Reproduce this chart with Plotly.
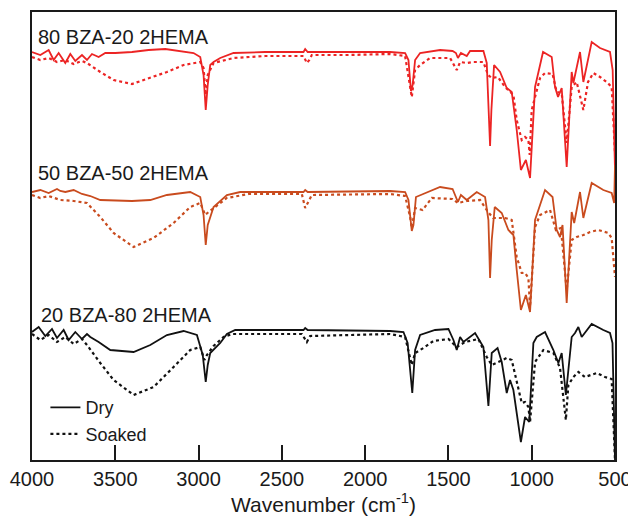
import plotly.graph_objects as go

# FTIR spectra, transmittance in arbitrary units (stacked, offset per sample)
wn_red_dry = [4000, 3950, 3900, 3870, 3840, 3800, 3770, 3740, 3700, 3670, 3640, 3600, 3560, 3500,
              3400, 3300, 3200, 3100, 3030, 2990, 2970, 2957, 2945, 2930, 2910, 2870, 2790, 2600,
              2370, 2360, 2345, 2100, 1850, 1760, 1740, 1725, 1715, 1700, 1670, 1550, 1475, 1455,
              1443, 1425, 1390, 1370, 1290, 1270, 1255, 1250, 1242, 1226, 1190, 1150, 1120, 1090,
              1065, 1035, 1010, 980, 932, 880, 860, 842, 820, 790, 760, 750, 710, 690, 640, 590,
              530, 514, 500]
t_red_dry = [408, 405, 410, 400, 407, 397, 406, 399, 405, 400, 406, 403, 407, 407,
             408, 410, 411, 409, 407, 403, 385, 350, 375, 395, 398, 402, 407, 408,
             408, 411, 408, 408, 408, 407, 400, 369, 375, 400, 407, 410, 409, 407,
             402, 407, 404, 409, 409, 397, 340, 314, 350, 395, 388, 372, 368, 330,
             290, 300, 282, 373, 408, 403, 373, 363, 372, 293, 388, 377, 408, 378, 418, 412,
             408, 390, 290]

wn_red_soaked = [4000, 3950, 3900, 3850, 3800, 3750, 3700, 3670, 3590, 3510, 3400, 3290, 3190,
                 3090, 2990, 2970, 2957, 2945, 2910, 2790, 2600, 2370, 2350, 2335, 2320, 2100,
                 1850, 1760, 1730, 1720, 1700, 1670, 1610, 1490, 1450, 1430, 1390, 1350, 1290,
                 1262, 1240, 1203, 1160, 1110, 1090, 1060, 1040, 1020, 1012, 1000, 980, 950, 920,
                 875, 850, 820, 790, 760, 730, 690, 662, 630, 590, 550, 520, 500]
t_red_soaked = [403, 400, 402, 398, 400, 396, 399, 397, 388, 380, 376, 382, 388,
                395, 398, 392, 365, 385, 397, 402, 404, 404, 397, 400, 405, 405,
                406, 404, 373, 363, 390, 395, 402, 402, 390, 398, 397, 398, 398,
                385, 382, 383, 373, 365, 340, 320, 323, 320, 305, 350, 363, 382, 387,
                386, 368, 367, 317, 373, 378, 350, 378, 387, 383, 378, 373, 307]

wn_or_dry = [4000, 3950, 3900, 3850, 3830, 3800, 3750, 3700, 3650, 3590, 3400, 3290, 3190, 3050,
             2990, 2970, 2957, 2945, 2910, 2830, 2750, 2370, 2360, 2345, 1850, 1760, 1740, 1720,
             1710, 1695, 1550, 1475, 1443, 1425, 1390, 1330, 1280, 1260, 1250, 1240, 1222, 1180,
             1140, 1110, 1090, 1065, 1035, 1010, 980, 920, 875, 850, 830, 815, 790, 760, 745,
             710, 690, 640, 570, 520, 505, 500]
t_or_dry = [268, 270, 267, 271, 269, 268, 270, 266, 264, 260, 259, 260, 265, 268,
            263, 245, 215, 235, 253, 265, 268, 268, 270, 268, 269, 268, 260, 229,
            235, 263, 273, 271, 258, 265, 260, 268, 263, 240, 182, 220, 253, 247,
            230, 225, 190, 150, 165, 148, 240, 270, 263, 230, 223, 235, 157, 248, 237,
            268, 242, 277, 270, 267, 257, 295]

wn_or_soaked = [4000, 3950, 3900, 3830, 3750, 3670, 3590, 3510, 3390, 3270, 3150, 3050, 2990,
                2960, 2940, 2830, 2700, 2380, 2360, 2340, 2320, 1850, 1760, 1730, 1720, 1700,
                1655, 1600, 1475, 1443, 1390, 1310, 1262, 1232, 1160, 1120, 1090, 1060, 1040,
                1020, 1010, 980, 950, 890, 855, 825, 790, 760, 730, 690, 650, 600, 540, 520, 500]
t_or_soaked = [265, 262, 264, 260, 259, 257, 243, 227, 213, 222, 237, 253, 257,
               245, 248, 262, 266, 266, 252, 258, 265, 266, 264, 243, 232, 252,
               250, 262, 261, 257, 259, 260, 248, 242, 242, 240, 203, 187, 187,
               182, 153, 233, 245, 250, 230, 232, 170, 220, 223, 225, 228, 230, 227, 222, 183]

wn_bk_dry = [4000, 3960, 3920, 3880, 3850, 3810, 3780, 3740, 3700, 3670, 3650, 3600, 3530, 3390,
             3290, 3190, 3090, 3010, 2975, 2957, 2945, 2930, 2870, 2830, 2780, 2370, 2360, 2345,
             1850, 1770, 1745, 1717, 1700, 1670, 1580, 1500, 1470, 1450, 1430, 1410, 1340, 1290,
             1260, 1240, 1205, 1180, 1150, 1130, 1110, 1065, 1040, 1015, 990, 970, 920, 870,
             840, 820, 795, 760, 740, 720, 700, 640, 570, 530, 515, 500]
t_bk_dry = [128, 133, 124, 131, 122, 130, 120, 128, 121, 126, 123, 118, 110, 108,
            115, 125, 129, 125, 105, 78, 95, 107, 117, 126, 130, 130, 132, 130,
            129, 128, 117, 67, 110, 125, 130, 131, 120, 110, 123, 118, 127, 113,
            54, 107, 112, 98, 67, 80, 70, 18, 43, 38, 117, 123, 128, 110,
            97, 107, 65, 123, 127, 133, 123, 136, 130, 127, 117, 0]

wn_bk_soaked = [4000, 3950, 3900, 3850, 3800, 3750, 3700, 3670, 3590, 3510, 3390, 3270, 3150,
                3050, 2990, 2965, 2950, 2910, 2850, 2800, 2380, 2350, 2330, 1850, 1760, 1730,
                1720, 1700, 1650, 1590, 1500, 1450, 1400, 1320, 1270, 1240, 1200, 1150, 1120,
                1090, 1060, 1040, 1020, 1010, 980, 930, 870, 830, 795, 780, 750, 720, 680, 610,
                560, 520, 500]
t_bk_soaked = [126, 120, 125, 118, 123, 116, 121, 115, 97, 80, 65, 73, 93,
               110, 113, 100, 105, 114, 123, 126, 126, 118, 124, 126, 123, 100,
               95, 107, 112, 119, 121, 113, 118, 121, 103, 95, 98, 102, 100,
               77, 57, 58, 53, 38, 98, 110, 107, 92, 40, 75, 83, 88, 83, 87,
               83, 81, 0]

labels = ["80 BZA-20 2HEMA", "50 BZA-50 2HEMA", "20 BZA-80 2HEMA"]
red = "#ec2424"
orange = "#c94b1e"
black = "#111111"

fig = go.Figure()

series = [
    (wn_red_dry, t_red_dry, red, "solid", "Dry", False),
    (wn_red_soaked, t_red_soaked, red, "dot", "Soaked", False),
    (wn_or_dry, t_or_dry, orange, "solid", "Dry", False),
    (wn_or_soaked, t_or_soaked, orange, "dot", "Soaked", False),
    (wn_bk_dry, t_bk_dry, black, "solid", "Dry", True),
    (wn_bk_soaked, t_bk_soaked, black, "dot", "Soaked", True),
]
for x, y, c, d, name, show in series:
    fig.add_trace(go.Scatter(
        x=x, y=y, mode="lines", name=name, showlegend=show,
        line=dict(color=c, width=1.8 if d == "solid" else 2.2, dash=d),
    ))

# page body adds ~8px offset, so the figure is a bit smaller than the window
fig.update_layout(
    width=628, height=518,
    margin=dict(l=24, r=21, t=4, b=66, autoexpand=False),
    plot_bgcolor="white", paper_bgcolor="white",
    font=dict(family="Liberation Sans, Arial, sans-serif", color="#1a1a1a"),
    legend=dict(x=0.023, y=0.158, xanchor="left", yanchor="top",
                font=dict(size=18), bgcolor="rgba(0,0,0,0)",
                tracegroupgap=0, itemwidth=30),
)
fig.update_xaxes(
    range=[4000, 500], tickvals=[4000, 3500, 3000, 2500, 2000, 1500, 1000, 500],
    ticks="inside", ticklen=15, tickwidth=1.5, tickcolor="#1a1a1a",
    tickfont=dict(size=20), showgrid=False, zeroline=False, automargin=False,
    showline=True, linecolor="#1a1a1a", linewidth=1.5, mirror=True,
    title=dict(text="Wavenumber (cm<sup>-1</sup>)", font=dict(size=21), standoff=2),
)
fig.update_yaxes(
    range=[0, 448], showticklabels=False, ticks="", showgrid=False, zeroline=False,
    showline=True, linecolor="#1a1a1a", linewidth=1.5, mirror=True, automargin=False,
)

label_pos = [(0.007, 0.944), (0.007, 0.641), (0.012, 0.324)]
for text, (px, py) in zip(labels, label_pos):
    fig.add_annotation(x=px, y=py, xref="paper", yref="paper", text=text,
                       showarrow=False, xanchor="left", yanchor="middle",
                       font=dict(size=20, color="#1a1a1a"))

fig.write_html("out.html")
